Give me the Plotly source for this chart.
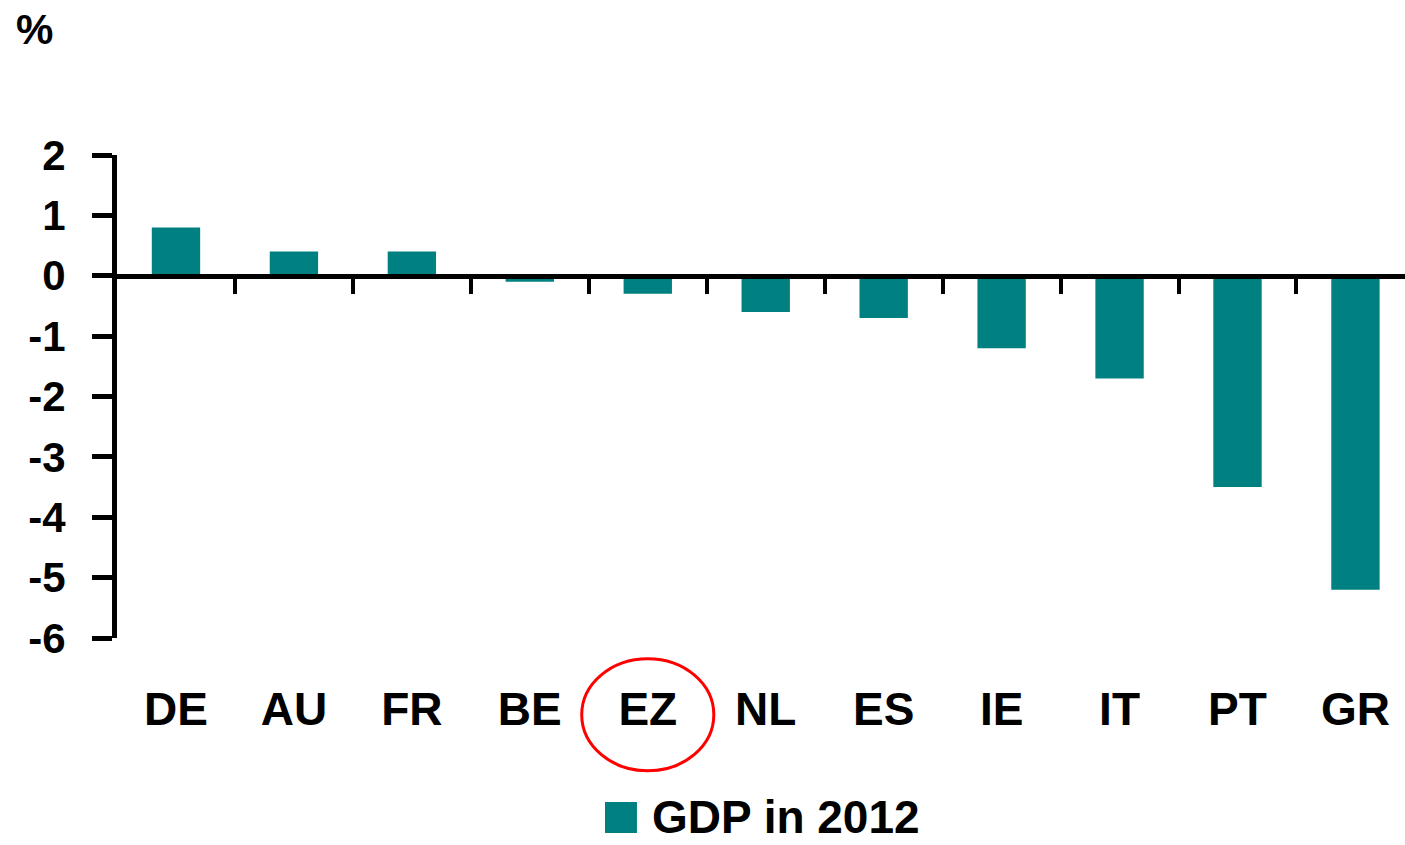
import plotly.graph_objects as go

# GDP growth in 2012, euro-area countries (%)
countries = ["DE", "AU", "FR", "BE", "EZ", "NL", "ES", "IE", "IT", "PT", "GR"]
gdp_2012 = [0.8, 0.4, 0.4, -0.1, -0.3, -0.6, -0.7, -1.2, -1.7, -3.5, -5.2]
y_ticks = [2, 1, 0, -1, -2, -3, -4, -5, -6]
y_tick_labels = ["2", "1", "0", "-1", "-2", "-3", "-4", "-5", "-6"]
series_name = "GDP in 2012"
highlight = "EZ"

TEAL = "#008080"
FONT = "Liberation Sans, Arial, sans-serif"

idx = list(range(len(countries)))
x_range = [-0.5, len(countries) - 0.58]

fig = go.Figure()
fig.add_trace(go.Bar(
    x=idx, y=gdp_2012, width=0.41, marker=dict(color=TEAL, line=dict(width=0)),
    name=series_name, showlegend=False,
))
# helper trace so the zero-line axis is rendered
fig.add_trace(go.Scatter(x=[idx[0]], y=[0], xaxis="x2", mode="markers",
                         marker=dict(opacity=0), showlegend=False, hoverinfo="skip"))

fig.update_layout(
    width=1405, height=845,
    margin=dict(l=117, r=0, t=155, b=207),
    plot_bgcolor="white", paper_bgcolor="white",
    font=dict(family=FONT, color="black"),
    xaxis=dict(
        range=x_range, tickvals=idx, ticktext=countries,
        showline=False, showgrid=False, zeroline=False, ticks="",
        tickfont=dict(size=46, weight="bold", family=FONT),
        ticklabelstandoff=40,
    ),
    xaxis2=dict(
        overlaying="x", anchor="free", position=6 / 8, range=x_range,
        showline=True, linecolor="black", linewidth=5,
        ticks="outside", ticklen=15, tickwidth=4, tickcolor="black",
        tickvals=[i + 0.5 for i in idx[:-1]], showticklabels=False,
        showgrid=False, zeroline=False,
    ),
    yaxis=dict(
        range=[-6, 2], tickvals=y_ticks, ticktext=y_tick_labels,
        showline=True, linecolor="black", linewidth=5,
        ticks="outside", ticklen=20, tickwidth=5, tickcolor="black",
        showgrid=False, zeroline=False,
        tickfont=dict(size=42, weight="bold", family=FONT),
        ticklabelstandoff=18,
    ),
    showlegend=False,
)

# unit label
fig.add_annotation(text="%", xref="paper", yref="paper", x=-0.064, y=1.259,
                   xanchor="center", yanchor="middle", showarrow=False,
                   font=dict(size=42, weight="bold", family=FONT))

# red ring around the euro-area aggregate
h = countries.index(highlight)
fig.add_shape(type="circle", xref="x", yref="paper",
              x0=h - 0.56, x1=h + 0.56, y0=-0.275, y1=-0.043,
              line=dict(color="red", width=3))

# legend: swatch + label
fig.add_shape(type="rect", xref="paper", yref="paper",
              x0=0.3789, x1=0.4037, y0=-0.4037, y1=-0.3395,
              fillcolor=TEAL, line=dict(width=0))
fig.add_annotation(text=series_name, xref="paper", yref="paper", x=0.4138, y=-0.3706,
                   xanchor="left", yanchor="middle", showarrow=False,
                   font=dict(size=46, weight="bold", family=FONT))

fig.write_html("out.html")
